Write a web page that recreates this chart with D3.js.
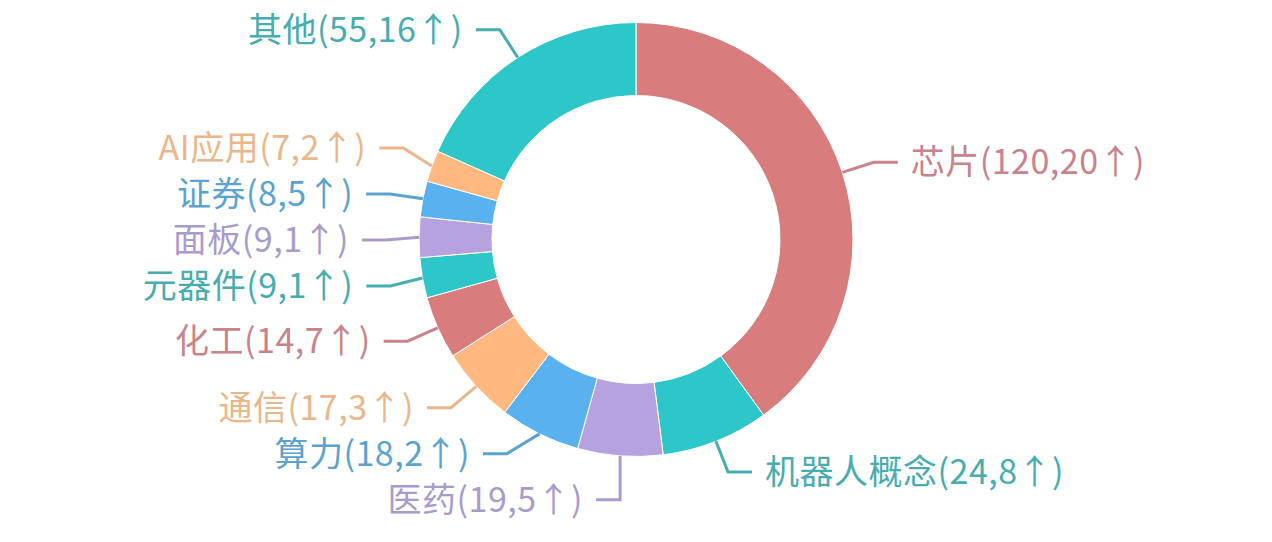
<!DOCTYPE html>
<html>
<head>
<meta charset="utf-8">
<script src="https://cdn.jsdelivr.net/npm/d3@7"></script>
<style>
  html, body { margin: 0; padding: 0; background: #fff; }
  #chart { width: 1272px; height: 542px; }
  text { font-family: "Noto Sans CJK SC", "Noto Sans", sans-serif; }
</style>
</head>
<body>
<div id="chart"></div>
<script>
const width = 1272;
const height = 542;

// sector data
const names = ["芯片", "机器人概念", "医药", "算力", "通信", "化工", "元器件", "面板", "证券", "AI应用", "其他"];
const counts = [120, 24, 19, 18, 17, 14, 9, 9, 8, 7, 55];
const ups = [20, 8, 5, 2, 3, 7, 1, 1, 5, 2, 16];

// palette
const sliceColors = ["#d87c7e", "#2ec7c9", "#b6a2de", "#5ab1ef", "#ffb980", "#d87c7e", "#2ec7c9", "#b6a2de", "#5ab1ef", "#ffb980", "#2ec7c9"];
const labelColors = ["#c8838b", "#48adae", "#a99bcc", "#5ba3d0", "#e9b78a", "#c8838b", "#48adae", "#a99bcc", "#5ba3d0", "#e9b78a", "#48adae"];

const cx = 636;
const cy = 239.5;
const outerR = 217;
const innerR = 144;
const len1 = 33;   // first label line segment
const len2 = 24;   // horizontal segment
const textGap = 13;
const minGap = 46; // min vertical distance between labels on one side

const rows = names.map((n, i) => ({
  name: n,
  count: counts[i],
  up: ups[i],
  color: sliceColors[i],
  labelColor: labelColors[i]
}));

const svg = d3
  .select("#chart")
  .append("svg")
  .attr("width", width)
  .attr("height", height);

const g = svg.append("g").attr("transform", `translate(${cx},${cy})`);

const pie = d3.pie().sort(null).value((d) => d.count);
const arcs = pie(rows);

const arc = d3.arc().innerRadius(innerR).outerRadius(outerR);

g.selectAll("path.slice")
  .data(arcs)
  .enter()
  .append("path")
  .attr("class", "slice")
  .attr("d", arc)
  .attr("fill", (d) => d.data.color)
  .attr("stroke", "#fff")
  .attr("stroke-width", 1);

// label layout: radial first, then spread on each side
const R2 = outerR + len1;
let labels = arcs.map((d) => {
  const a = (d.startAngle + d.endAngle) / 2;
  const s = Math.sin(a);
  const c = Math.cos(a);
  return {
    d: d,
    dir: s < 0 ? -1 : 1,
    x1: s * outerR,
    y1: -c * outerR,
    y: -c * R2
  };
});

[-1, 1].forEach((dir) => {
  const side = labels.filter((l) => l.dir === dir).sort((a, b) => a.y - b.y);
  for (let k = 0; k < 500; k++) {
    let moved = false;
    for (let i = 1; i < side.length; i++) {
      const gap = side[i].y - side[i - 1].y;
      if (gap < minGap - 0.01) {
        const shift = (minGap - gap) / 2;
        side[i - 1].y -= shift;
        side[i].y += shift;
        moved = true;
      }
    }
    if (!moved) break;
  }
});

labels.forEach((l) => {
  const dy = Math.abs(l.y);
  let x2 = l.dir * Math.sqrt(Math.max(0, R2 * R2 - dy * dy));
  x2 = l.dir < 0 ? Math.min(x2, l.x1) : Math.max(x2, l.x1);
  l.x2 = x2;
  l.x3 = x2 + l.dir * len2;
});

const line = d3.line();

g.selectAll("path.label-line")
  .data(labels)
  .enter()
  .append("path")
  .attr("class", "label-line")
  .attr("d", (l) => line([[l.x1, l.y1], [l.x2, l.y], [l.x3, l.y]]))
  .attr("fill", "none")
  .attr("stroke", (l) => l.d.data.labelColor)
  .attr("stroke-width", 3);

g.selectAll("text.label")
  .data(labels)
  .enter()
  .append("text")
  .attr("class", "label")
  .attr("x", (l) => l.x3 + l.dir * textGap)
  .attr("y", (l) => l.y)
  .attr("dy", "0.35em")
  .attr("text-anchor", (l) => (l.dir < 0 ? "end" : "start"))
  .attr("fill", (l) => l.d.data.labelColor)
  .style("font-size", "34px")
  .style("letter-spacing", "0.5px")
  .text((l) => `${l.d.data.name}(${l.d.data.count},${l.d.data.up}↑)`);
</script>
</body>
</html>
